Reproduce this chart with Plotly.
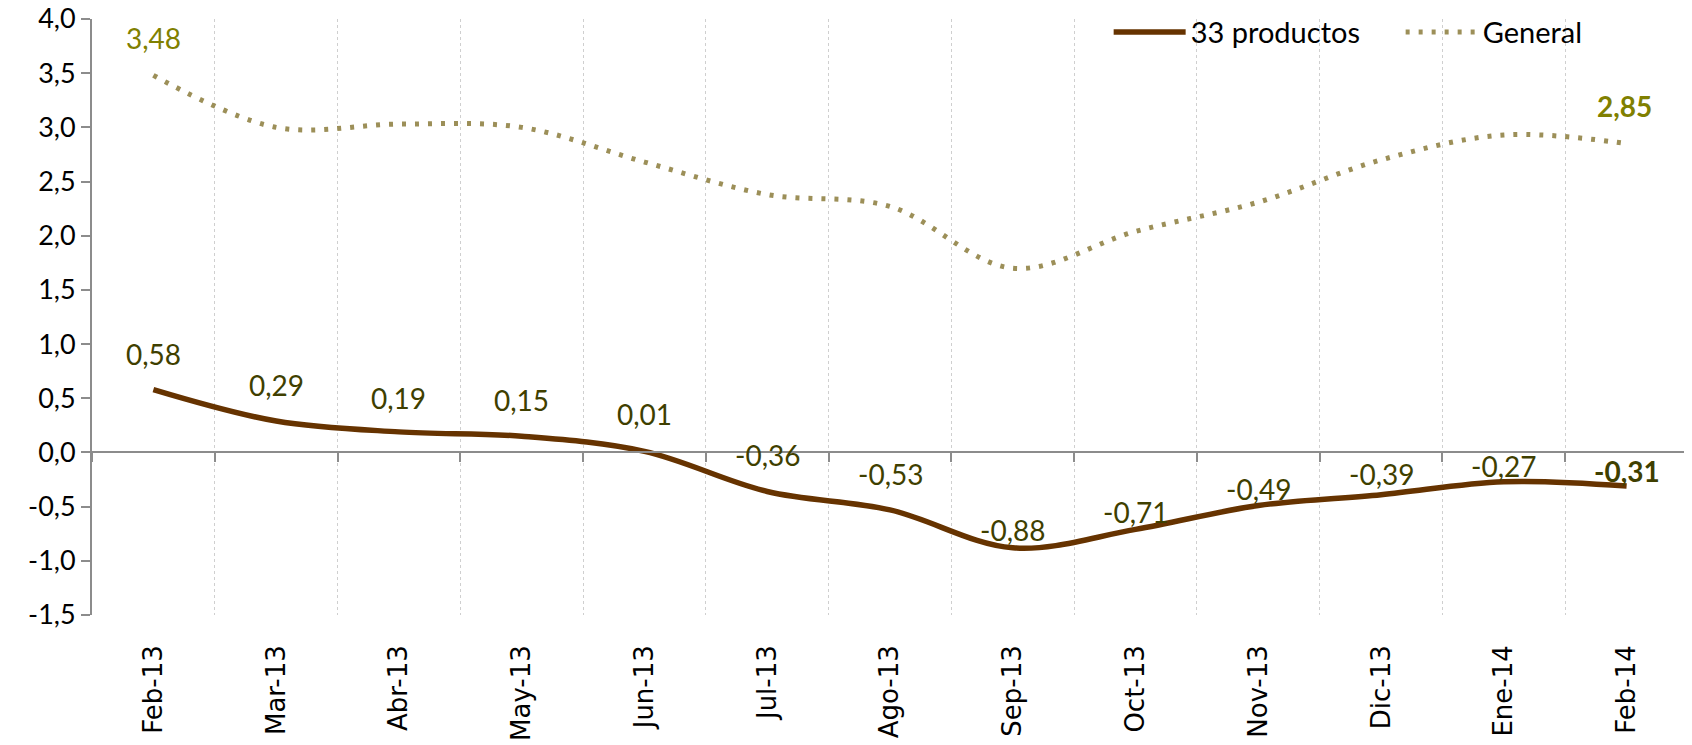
import plotly.graph_objects as go

months = ["Feb-13", "Mar-13", "Abr-13", "May-13", "Jun-13", "Jul-13", "Ago-13",
          "Sep-13", "Oct-13", "Nov-13", "Dic-13", "Ene-14", "Feb-14"]
productos_33 = [0.58, 0.29, 0.19, 0.15, 0.01, -0.36, -0.53, -0.88, -0.71, -0.49, -0.39, -0.27, -0.31]
general = [3.48, 3.00, 3.03, 3.00, 2.68, 2.38, 2.27, 1.70, 2.04, 2.31, 2.70, 2.93, 2.85]
y_ticks = [-1.5, -1.0, -0.5, 0.0, 0.5, 1.0, 1.5, 2.0, 2.5, 3.0, 3.5, 4.0]

y_min, y_max = -1.5, 4.0

# label offsets above each point (pixels), as placed in the original chart
label_shift = [36, 36, 34, 36, 37, 36, 36, 18, 17, 17, 21, 16, 15]

# the page body keeps its default 8px margin, so the figure is drawn 8px in
BODY = 8


def fmt(v, nd=2):
    # decimal comma and a plain hyphen for negatives, like the Excel original
    return f"{v:.{nd}f}".replace(".", ",")


fig = go.Figure()
fig.add_trace(go.Scatter(
    x=months, y=productos_33, name="33 productos", mode="lines",
    line=dict(color="#663300", width=5.5, shape="spline", smoothing=1.0),
))
fig.add_trace(go.Scatter(
    x=months, y=general, name="General", mode="lines", xaxis="x2",
    line=dict(color="#9C8F58", width=5, shape="spline", smoothing=1.0, dash="4px,9px"),
))

for i, (m, v) in enumerate(zip(months, productos_33)):
    txt = fmt(v)
    if i == len(months) - 1:
        txt = f"<b>{txt}</b>"
    fig.add_annotation(x=m, y=v, text=txt, showarrow=False, yshift=label_shift[i],
                       font=dict(family="Lato", size=28, color="#3F3F00"))

fig.add_annotation(x=months[0], y=general[0], text=fmt(general[0]), showarrow=False,
                   yshift=37, font=dict(family="Lato", size=28, color="#808000"))
fig.add_annotation(x=months[-1], y=general[-1], text=f"<b>{fmt(general[-1])}</b>",
                   showarrow=False, yshift=38, xshift=-2,
                   font=dict(family="Lato", size=28, color="#808000"))

zero_pos = (0 - y_min) / (y_max - y_min)

fig.update_layout(
    width=1692 - BODY, height=745 - BODY,
    margin=dict(l=92 - BODY, r=4, t=19 - BODY, b=130, autoexpand=False),
    plot_bgcolor="white", paper_bgcolor="white",
    font=dict(family="Lato", size=26, color="black"),
    showlegend=True,
    legend=dict(orientation="h", x=0.637, xanchor="left", y=0.978, yanchor="middle",
                entrywidth=205, entrywidthmode="pixels", itemwidth=72,
                bgcolor="rgba(0,0,0,0)", font=dict(family="Lato", size=29)),
    xaxis=dict(
        type="category", range=[-0.5, 12.5], tickson="boundaries",
        showgrid=True, gridcolor="#CFCFCF", griddash="dot", gridwidth=1,
        ticks="", showline=False, zeroline=False,
        tickangle=-90, ticklabelstandoff=24,
        tickfont=dict(family="DejaVu Sans", size=26, color="black"),
    ),
    xaxis2=dict(
        type="category", range=[-0.5, 12.5], overlaying="x", anchor="free",
        position=zero_pos, side="bottom", tickson="boundaries",
        showline=True, linecolor="#8C8C8C", linewidth=2,
        ticks="outside", ticklen=9, tickcolor="#8C8C8C", tickwidth=1.5,
        showticklabels=False, showgrid=False, zeroline=False,
    ),
    yaxis=dict(
        range=[y_min, y_max], tickvals=y_ticks, ticktext=[fmt(t, 1) for t in y_ticks],
        showgrid=False, zeroline=False, ticklabeloverflow="allow",
        showline=True, linecolor="#8C8C8C", linewidth=2,
        ticks="outside", ticklen=9, tickcolor="#8C8C8C", tickwidth=1.5,
        tickfont=dict(family="Lato", size=27, color="black"),
    ),
)

fig.write_html("out.html")
